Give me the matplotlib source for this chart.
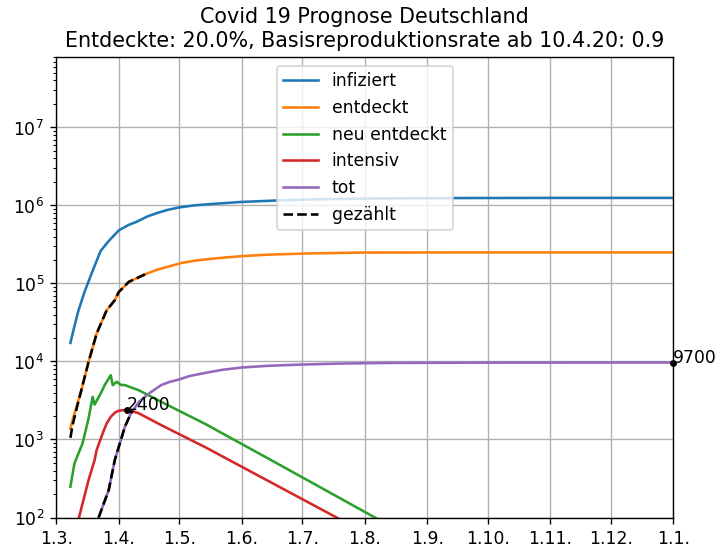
import numpy as np
import matplotlib
matplotlib.use("Agg")
import matplotlib.pyplot as plt
import matplotlib.dates as mdates

# days since 1.3.2020 and values
start = np.datetime64("2020-03-01")

inf_days = [7, 9, 11, 14, 18, 22, 26, 31, 36, 40, 45, 50, 55, 61, 68, 76, 92, 110, 130, 160,
            200, 250, 306]
inf_vals = [17300, 28400, 45000, 78000, 145000, 262000, 350000, 480000, 565000, 620000,
            720000, 800000, 875000, 945000, 1000000, 1040000, 1110000, 1160000, 1200000,
            1230000, 1245000, 1250000, 1250000]

ent_days = [7, 8, 11, 12, 16, 20, 25, 29, 31, 36, 45, 50, 55, 62, 70, 80, 92, 105, 123, 151,
            200, 306]
ent_vals = [1370, 1770, 3190, 3890, 9890, 22800, 45400, 61000, 77800, 105000, 134000,
            150000, 163000, 183000, 198000, 211000, 224000, 234000, 242000, 249000,
            250000, 250000]

neu_days = [7, 9, 13, 16, 18, 19, 22, 24, 27, 28, 30, 32, 34, 41, 52, 74, 111, 158, 175]
neu_vals = [248, 495, 890, 1860, 3520, 2800, 3890, 4980, 6680, 4980, 5500, 5000, 4980,
            4270, 3040, 1575, 470, 100, 59]

int_days = [10, 16, 19, 20, 23, 25, 27, 29, 31, 35, 38, 41, 52, 74, 139, 160]
int_vals = [75, 302, 545, 731, 1200, 1610, 1950, 2200, 2340, 2400, 2300, 2160, 1530, 793,
            100, 52]

tot_days = [21, 26, 29, 32, 34, 37, 41, 46, 52, 56, 61, 66, 74, 82, 92, 105, 120, 140, 166,
            220, 306]
tot_vals = [100, 225, 545, 980, 1455, 2160, 3040, 3890, 4980, 5450, 5890, 6500, 7150, 7800,
            8370, 8800, 9100, 9400, 9590, 9680, 9700]

# counted (gezählt): detected cases and deaths
cnt_days = [7, 8, 11, 12, 16, 20, 25, 29, 31, 36, 44]
cnt_vals = [1050, 1500, 3100, 3890, 9890, 22800, 45400, 61000, 77800, 105000, 131000]
cnt_tot_days = [21, 26, 29, 32, 34, 37, 38]
cnt_tot_vals = [100, 225, 545, 980, 1455, 2160, 2350]


def dates(d):
    return start + np.array(d, dtype="timedelta64[D]")


dpi = 124
fig = plt.figure(figsize=(721 / dpi, 551 / dpi), dpi=dpi)
ax = fig.add_axes([56.3 / 721, 1 - 517.5 / 551, 617 / 721, 460.5 / 551])

ax.plot(dates(inf_days), inf_vals, label="infiziert")
ax.plot(dates(ent_days), ent_vals, label="entdeckt")
ax.plot(dates(neu_days), neu_vals, label="neu entdeckt")
ax.plot(dates(int_days), int_vals, label="intensiv")
ax.plot(dates(tot_days), tot_vals, label="tot")
ax.plot(dates(cnt_days), cnt_vals, "k--", label="gezählt")
ax.plot(dates(cnt_tot_days), cnt_tot_vals, "k--")

# markers for peak of intensive care and final deaths
i = int(np.argmax(int_vals))
xp = dates(int_days)[i]
ax.plot([xp], [int_vals[i]], "ko", ms=3)
ax.text(xp, int_vals[i], str(int_vals[i]))
xe = dates(tot_days)[-1]
ax.plot([xe], [tot_vals[-1]], "ko", ms=3, clip_on=False)
ax.text(xe, tot_vals[-1], str(tot_vals[-1]))

ax.set_yscale("log")
ax.set_ylim(100, 8e7)
ax.set_xlim(np.datetime64("2020-03-01"), np.datetime64("2021-01-01"))
ax.xaxis.set_major_locator(mdates.MonthLocator())
ax.xaxis.set_major_formatter(mdates.DateFormatter("%-d.%-m."))
ax.grid(True)
ax.legend(loc="upper center")
ax.set_title("Covid 19 Prognose Deutschland\n"
             "Entdeckte: 20.0%, Basisreproduktionsrate ab 10.4.20: 0.9")

fig.savefig("out.png", dpi=dpi)
